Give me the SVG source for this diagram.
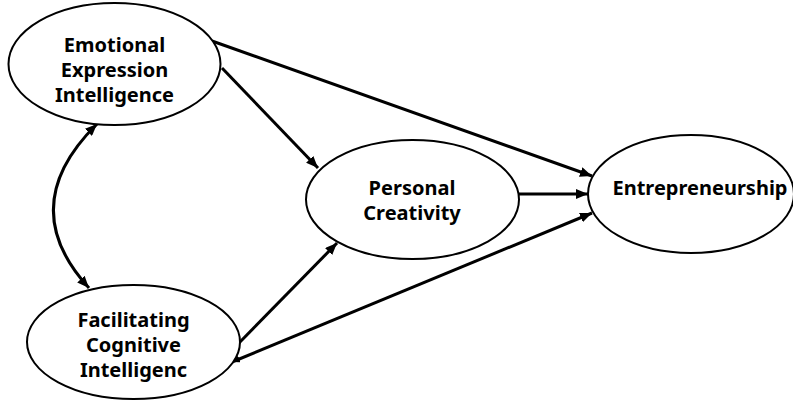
<svg xmlns="http://www.w3.org/2000/svg" width="793" height="400" viewBox="0 0 793 400">
<defs>
<style>
.n{fill:#fff;stroke:#000;stroke-width:2}
.t{font-family:"Noto Sans","Open Sans","Liberation Sans",sans-serif;font-weight:bold;font-size:20px;fill:#000;text-anchor:middle}
.c{fill:none;stroke:#000;stroke-width:3}
</style>
<marker id="ah" markerUnits="userSpaceOnUse" markerWidth="12" markerHeight="10" refX="12" refY="5" orient="auto-start-reverse">
<path d="M0,0 L12,5 L0,10 z" fill="#000"/>
</marker>
<marker id="sm" markerUnits="userSpaceOnUse" markerWidth="8" markerHeight="7" refX="8" refY="3.5" orient="auto-start-reverse">
<path d="M0,0 L8,3.5 L0,7 z" fill="#000"/>
</marker>
</defs>
<rect width="793" height="400" fill="#fff"/>
<g id="connectors">
<line class="c" x1="212" y1="41" x2="592" y2="176" marker-end="url(#ah)"/>
<line class="c" x1="222" y1="68" x2="318" y2="168" marker-end="url(#ah)"/>
<line class="c" x1="519" y1="194" x2="588" y2="194" marker-end="url(#ah)"/>
<line class="c" x1="239" y1="343" x2="337" y2="243" marker-end="url(#ah)"/>
<line class="c" x1="232" y1="362" x2="592" y2="213" marker-start="url(#sm)" marker-end="url(#ah)"/>
<path class="c" d="M97,124 Q14,206 89,288" marker-start="url(#ah)" marker-end="url(#ah)"/>
</g>
<g id="emotional">
<ellipse class="n" cx="114.5" cy="64" rx="106" ry="61"/>
<text class="t" x="114.5" y="52">Emotional</text>
<text class="t" x="114.5" y="77">Expression</text>
<text class="t" x="114.5" y="102">Intelligence</text>
</g>
<g id="facilitating">
<ellipse class="n" cx="133.5" cy="342" rx="106.5" ry="57"/>
<text class="t" x="133.5" y="327">Facilitating</text>
<text class="t" x="133.5" y="352">Cognitive</text>
<text class="t" x="133.5" y="377">Intelligenc</text>
</g>
<g id="creativity">
<ellipse class="n" cx="412.5" cy="199.5" rx="106.5" ry="59.5"/>
<text class="t" x="412" y="195">Personal</text>
<text class="t" x="412" y="220">Creativity</text>
</g>
<g id="entrepreneurship">
<ellipse class="n" cx="691" cy="194" rx="103" ry="59"/>
<text class="t" x="700" y="195">Entrepreneurship</text>
</g>
</svg>
